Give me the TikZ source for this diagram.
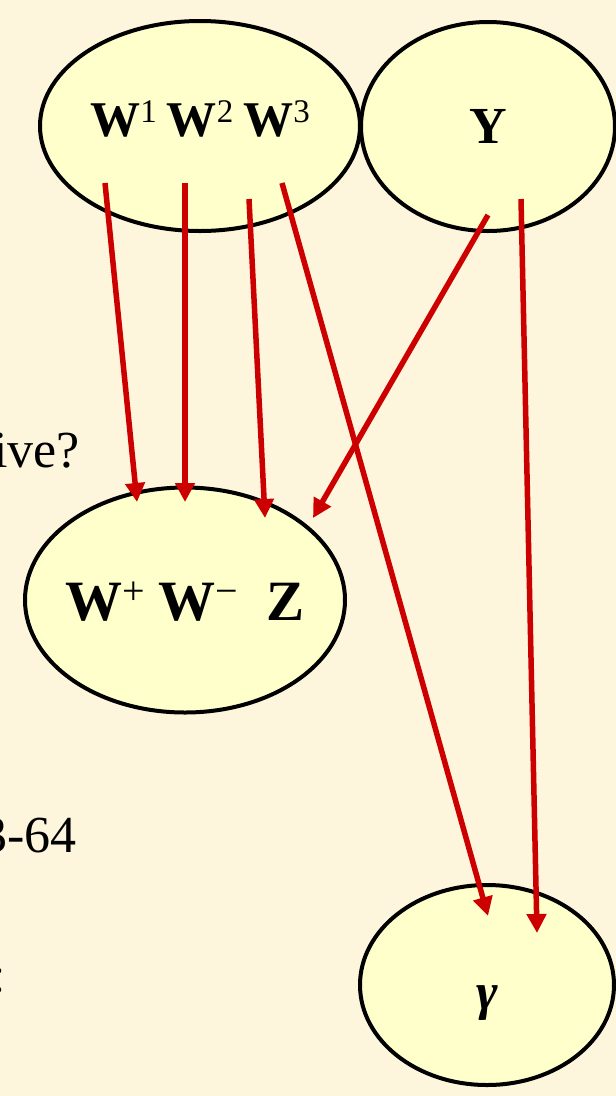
\documentclass[tikz,border=0pt]{standalone}
\usepackage{fontspec}
\setmainfont{Liberation Serif}
\usetikzlibrary{arrows.meta,shapes.geometric}
\definecolor{slidecream}{HTML}{FDF5DC}
\definecolor{bubbleyellow}{HTML}{FFFFCC}
\definecolor{arrowred}{HTML}{CC0000}
\newcommand{\upidx}[3][14pt]{\raisebox{#1}{\fontsize{#2}{40}\selectfont\mdseries #3}}
\newcommand{\flatlabel}[2]{\makebox[0pt]{\raisebox{#1}[0pt][0pt]{#2}}}

\begin{document}
\begin{tikzpicture}[x=1pt,y=-1pt,
  bubble/.style={ellipse,draw=black,line width=4pt,fill=bubbleyellow,inner sep=0pt},
  redarrow/.style={draw=arrowred,line width=5.5pt,-{Triangle[length=19pt,width=19pt]}},
  slidetext/.style={inner sep=0pt,font=\fontsize{52}{60}\selectfont}]
\useasboundingbox[fill=slidecream] (0,0) rectangle (616,1096);
% slide text behind the picture, cut at the left edge
\node[slidetext,anchor=base east] (ive) at (80,467) {ive?};
\node[slidetext,anchor=base east] (num) at (77,852) {3-64};
\node[slidetext,anchor=base east] (colon) at (6,992) {:};
% bosons
\node[bubble,minimum width=320pt,minimum height=210pt,font=\fontsize{50}{60}\selectfont\bfseries] (wtop) at (200,126)
  {\flatlabel{-10pt}{W\upidx{33}{1}\hspace{.2em}W\upidx{33}{2}\hspace{.2em}W\upidx{33}{3}}};
\node[bubble,minimum width=254pt,minimum height=209pt,font=\fontsize{52}{60}\selectfont\bfseries] (ytop) at (488,126.5)
  {\flatlabel{-17pt}{Y}};
\node[bubble,minimum width=320pt,minimum height=225pt,font=\fontsize{57}{66}\selectfont\bfseries] (wz) at (185,600)
  {\flatlabel{-20pt}{W\upidx[16pt]{40}{+}\hspace{.25em}W\upidx[16pt]{40}{−}\hspace{.5em}Z}};
\node[bubble,minimum width=254pt,minimum height=200pt,font=\fontsize{52}{60}\selectfont\bfseries\itshape] (gam) at (487,985)
  {\flatlabel{-24pt}{γ}};
% arrow ends
\coordinate (w1) at (105,183);
\coordinate (w2) at (185,183);
\coordinate (w3) at (249,199);
\coordinate (w4) at (282,183);
\coordinate (y1) at (488,215);
\coordinate (y2) at (521,199);
\coordinate (z1) at (137,502);
\coordinate (z2) at (185,502);
\coordinate (z3) at (265,518);
\coordinate (z4) at (313,518);
\coordinate (g1) at (488,916);
\coordinate (g2) at (537,933);
\foreach \s/\t in {w1/z1,w2/z2,w3/z3,w4/g1,y1/z4,y2/g2}
  \draw[redarrow] (\s)--(\t);
\end{tikzpicture}
\end{document}
